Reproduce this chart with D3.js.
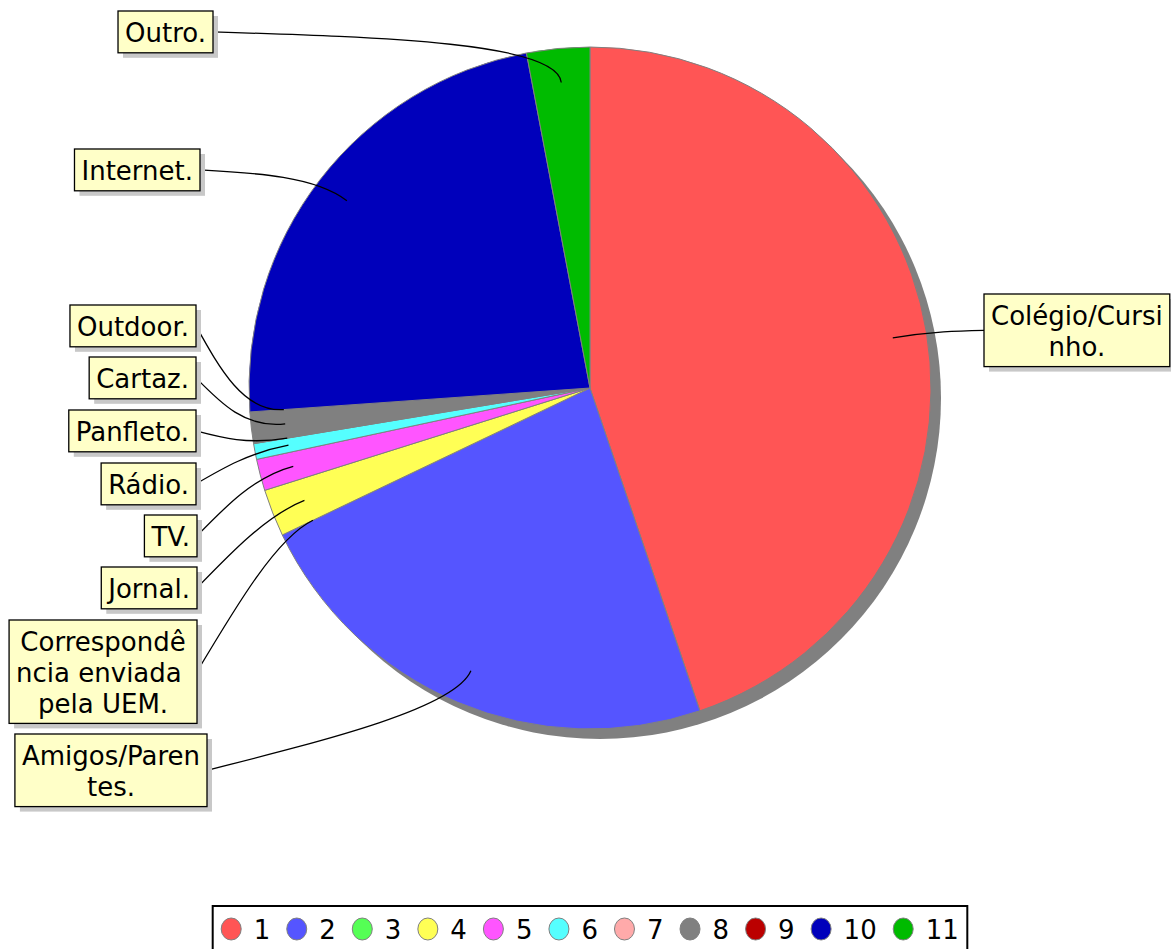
<!DOCTYPE html>
<html><head><meta charset="utf-8">
<script src="https://cdn.jsdelivr.net/npm/d3@7"></script>
<style>
body{margin:0;background:#fff}
svg{display:block}
text{font-family:"DejaVu Sans",sans-serif;white-space:pre}
</style>
</head><body>
<svg id="chart" width="1171" height="949"></svg>
<script>
// ---- data ----
const categories = ["Colégio/Cursinho.","Amigos/Parentes.","Correspondência enviada pela UEM.","Jornal.","TV.","Rádio.","Panfleto.","Cartaz.","Outdoor.","Internet.","Outro."];
const values = [60,31,0,3,2,1,0,2,0,31,4];
const legendLabels = ["1","2","3","4","5","6","7","8","9","10","11"];
const labelLines = [["Colégio/Cursi","nho."],["Amigos/Paren","tes."],["Correspondê","ncia enviada ","pela UEM."],["Jornal."],["TV."],["Rádio."],["Panfleto."],["Cartaz."],["Outdoor."],["Internet."],["Outro."]];

// ---- styles / layout ----
const colors = ["#ff5555","#5555ff","#55ff55","#ffff55","#ff55ff","#55ffff","#ffaaaa","#808080","#bb0000","#0000bb","#00bb00"];
const labelEdgeX = [984,207,197,197,197,196,196,196,196,200,213];
const labelTop   = [294,734,620,567,515,463,410,357,305,149,11];

const W=1171,H=949, cx=590, cy=388, R=341;
const FS=26, LH=30.8, PADX=7, PADY=5.5;

const svg = d3.select("#chart");

const pieData = d3.pie().sort(null).value(d=>d)(values);
const arc = d3.arc().innerRadius(0).outerRadius(R);
const anchorArc = d3.arc().innerRadius(R*0.9).outerRadius(R*0.9);

const g = svg.append("g").attr("transform",`translate(${cx},${cy})`);
// shadow
g.append("circle").attr("cx",10).attr("cy",10).attr("r",R).attr("fill","#808080");
// slices
g.selectAll("path.slice").data(pieData.filter(d=>d.value>0)).join("path")
  .attr("class","slice")
  .attr("d",arc)
  .attr("fill",d=>colors[d.index])
  .attr("stroke","#808080")
  .attr("stroke-width",1);

// labels
const lab = svg.append("g");
const lines = svg.append("g");
pieData.forEach((d,i)=>{
  const ls = labelLines[i];
  const grp = lab.append("g");
  const texts = ls.map(s=>grp.append("text").attr("font-size",FS).text(s));
  const maxW = d3.max(texts, t=>t.node().getComputedTextLength());
  const w = maxW + 2*PADX;
  const h = ls.length*LH + 2*PADY;
  const mid = (d.startAngle+d.endAngle)/2;
  const rightSide = Math.sin(mid) > 0;
  const x = rightSide ? labelEdgeX[i] : labelEdgeX[i]-w;
  const y = labelTop[i];
  grp.insert("rect","text").attr("x",x+5).attr("y",y+5).attr("width",w).attr("height",h).attr("fill","#c8c8c8");
  grp.insert("rect","text").attr("x",x).attr("y",y).attr("width",w).attr("height",h)
     .attr("fill","#ffffc8").attr("stroke","#000").attr("stroke-width",1.3);
  texts.forEach((t,k)=>t.attr("x",x+w/2).attr("y",y+PADY+LH*(k+1)-5.2).attr("text-anchor","middle").attr("fill","#000"));
  // leader
  const [ax,ay] = anchorArc.centroid(d);
  const px = cx+ax, py = cy+ay;
  const ux = Math.sin(mid), uy = -Math.cos(mid);
  const p0x = rightSide ? x : x+w, p0y = y+h/2;
  const p2x = px+ux*40, p2y = py+uy*40;
  const p1x = (p0x+p2x)/2, p1y = (p0y+p2y)/2;
  const path = d3.path();
  path.moveTo(p0x,p0y);
  path.bezierCurveTo(p1x,p1y,p2x,p2y,px,py);
  lines.append("path").attr("d",path.toString()).attr("fill","none").attr("stroke","#000").attr("stroke-width",1.3);
});
lab.raise();

// legend
const leg = svg.append("g");
const items = legendLabels.map((s,i)=>{
  const t = leg.append("text").attr("font-size",FS).attr("fill","#000").text(s);
  return {t, w:t.node().getComputedTextLength(), i};
});
let pos = 0;
items.forEach(it=>{ it.cx = pos; it.tx = pos+22.5; pos = it.tx + it.w + 26.5; });
const last = items[items.length-1];
const padL = 18.5, padR = 8.5;
const totalW = last.tx + last.w + padL + padR;
const lx = cx - totalW/2;
const ly = 906;
leg.insert("rect",":first-child").attr("x",lx).attr("y",ly).attr("width",totalW).attr("height",60)
  .attr("fill","#fff").attr("stroke","#000").attr("stroke-width",2);
const off = lx + padL;
items.forEach(it=>{
  leg.append("ellipse").attr("cx",off+it.cx).attr("cy",ly+23).attr("rx",10).attr("ry",11)
    .attr("fill",colors[it.i]).attr("stroke","#808080").attr("stroke-width",1);
  it.t.attr("x",off+it.tx).attr("y",ly+33);
});
</script>
</body></html>
